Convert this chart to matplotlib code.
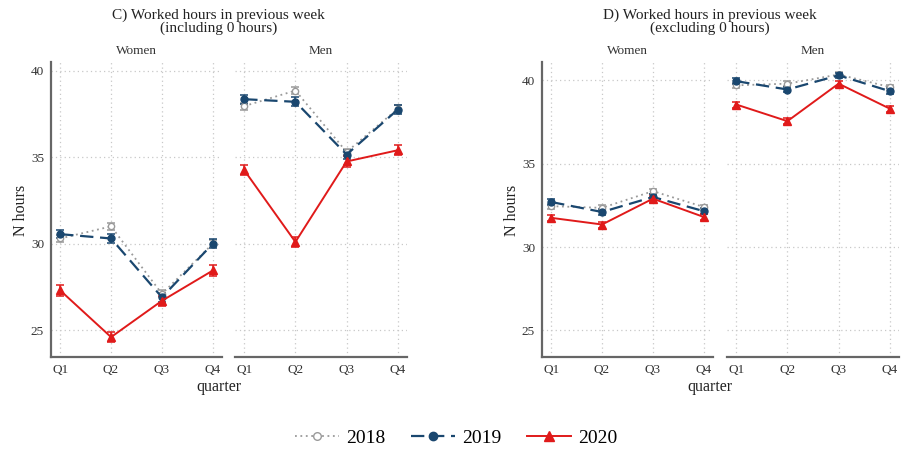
import matplotlib
matplotlib.use('Agg')
from matplotlib import pyplot as plt
from matplotlib.lines import Line2D

plt.rcParams['font.family'] = ['Liberation Serif', 'DejaVu Serif']

quarters = ['Q1', 'Q2', 'Q3', 'Q4']
years = ['2018', '2019', '2020']

# C) mean weekly hours, including people with 0 hours
c_women = {'2018': [30.3, 31.0, 27.1, 30.0],
           '2019': [30.55, 30.3, 26.9, 30.0],
           '2020': [27.3, 24.6, 26.7, 28.45]}
c_men = {'2018': [37.95, 38.85, 35.3, 37.8],
         '2019': [38.35, 38.2, 35.15, 37.75],
         '2020': [34.25, 30.1, 34.75, 35.4]}
c_ci = {'2018': 0.2, '2019': 0.25, '2020': 0.3}

# D) mean weekly hours, excluding people with 0 hours
d_women = {'2018': [32.45, 32.35, 33.35, 32.4],
           '2019': [32.7, 32.1, 33.0, 32.15],
           '2020': [31.75, 31.35, 32.9, 31.8]}
d_men = {'2018': [39.7, 39.8, 40.35, 39.6],
         '2019': [39.95, 39.45, 40.3, 39.35],
         '2020': [38.55, 37.55, 39.8, 38.3]}
d_ci = {'2018': 0.15, '2019': 0.17, '2020': 0.18}

styles = {
    '2018': dict(color='#9a9a9a', ls=(0, (1, 2)), marker='o', mfc='white', ms=4.5, lw=1.3),
    '2019': dict(color='#1a476f', ls=(0, (6, 3)), marker='o', mfc='#1a476f', ms=5, lw=1.6),
    '2020': dict(color='#e01a1a', ls='-', marker='^', mfc='#e01a1a', ms=5.5, lw=1.4),
}

W, H = 905, 451
fig = plt.figure(figsize=(W / 100, H / 100), dpi=100)


def px_axes(x0, x1, y0, y1):
    return fig.add_axes([x0 / W, 1 - y1 / H, (x1 - x0) / W, (y1 - y0) / H])


def draw_panel(ax, data, ci, ylim, left):
    x = range(1, 5)
    for yr in years:
        st = styles[yr]
        ax.errorbar(x, data[yr], yerr=ci[yr], color=st['color'], ls=st['ls'],
                    lw=st['lw'], marker=st['marker'], mfc=st['mfc'],
                    mec=st['color'], ms=st['ms'], capsize=3, elinewidth=1.1,
                    capthick=1.1, zorder=3)
    ax.set_xlim(0.82, 4.18)
    ax.set_ylim(*ylim)
    ax.set_xticks(x)
    ax.set_xticklabels(quarters)
    ax.set_yticks([25, 30, 35, 40])
    ax.grid(True, ls=(0, (1, 2.5)), color='#c8c8c8', lw=0.9)
    ax.tick_params(length=0, labelsize=9.5, colors='#333333', pad=5)
    for s in ['top', 'right']:
        ax.spines[s].set_visible(False)
    ax.spines['bottom'].set_color('#666666')
    ax.spines['bottom'].set_linewidth(1.6)
    if left:
        ax.spines['left'].set_color('#666666')
        ax.spines['left'].set_linewidth(1.6)
    else:
        ax.spines['left'].set_visible(False)
        ax.tick_params(axis='y', labelleft=False)


def draw_chart(xs, women, men, ci, ylim, title, sub):
    (w0, w1), (m0, m1) = xs
    axw = px_axes(w0, w1, 62, 357)
    axm = px_axes(m0, m1, 62, 357)
    draw_panel(axw, women, ci, ylim, True)
    draw_panel(axm, men, ci, ylim, False)
    axw.set_title('Women', fontsize=9.5, color='#333333', pad=6)
    axm.set_title('Men', fontsize=9.5, color='#333333', pad=6)
    cx = (w1 + m0) / 2 - 10
    fig.text(cx / W, 1 - 15 / H, title, ha='center', va='center', fontsize=11, color='#222222')
    fig.text(cx / W, 1 - 28 / H, sub, ha='center', va='center', fontsize=11, color='#222222')
    fig.text(cx / W, 1 - 387 / H, 'quarter', ha='center', va='center', fontsize=11.5, color='#222222')
    fig.text((w0 - 30) / W, 1 - 210 / H, 'N hours', ha='center', va='center',
             rotation=90, fontsize=11.5, color='#222222')


draw_chart([(51, 222), (235, 407)], c_women, c_men, c_ci, (23.45, 40.5),
           'C) Worked hours in previous week', '(including 0 hours)')
draw_chart([(542, 713), (727, 899)], d_women, d_men, d_ci, (23.4, 41.1),
           'D) Worked hours in previous week', '(excluding 0 hours)')

handles = []
for yr in years:
    st = styles[yr]
    handles.append(Line2D([], [], color=st['color'], ls=st['ls'], lw=st['lw'],
                          marker=st['marker'], mfc=st['mfc'], mec=st['color'],
                          ms=st['ms'] + 1))
fig.legend(handles, years, loc='center', bbox_to_anchor=(456 / W, 1 - 438 / H),
           ncol=3, frameon=False, fontsize=14, handlelength=2.3,
           columnspacing=1.3, handletextpad=0.35)

fig.savefig('out.png', dpi=100)
